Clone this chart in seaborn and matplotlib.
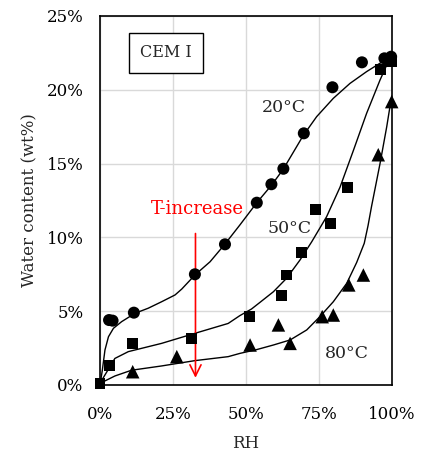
import numpy as np
import pandas as pd
import matplotlib
matplotlib.use("Agg")
import matplotlib.pyplot as plt
from matplotlib.ticker import PercentFormatter
import seaborn as sns

### Measured points (RH %, water content wt%)

rh_20 = [3.1, 4.3, 11.6, 32.5, 42.8, 53.7, 58.7, 62.8, 69.8, 79.6, 89.7, 97.4, 99.7]
w_20 = [4.4, 4.36, 4.9, 7.5, 9.53, 12.35, 13.6, 14.65, 17.05, 20.17, 21.86, 22.13, 22.24]

rh_50 = [0.0, 3.4, 11.2, 31.2, 51.1, 62.1, 63.9, 69.1, 73.7, 78.8, 84.8, 96.0, 99.7]
w_50 = [0.11, 1.31, 2.78, 3.14, 4.67, 6.08, 7.45, 8.99, 11.86, 10.95, 13.4, 21.4, 21.9]

rh_80 = [11.2, 26.3, 51.4, 61.1, 65.1, 76.1, 79.9, 85.2, 90.2, 95.3, 99.9]
w_80 = [0.9, 1.92, 2.71, 4.07, 2.82, 4.63, 4.74, 6.78, 7.45, 15.6, 19.2]

### Fitted curves

crv_rh_20 = [0, 0.8, 1.7, 2.9, 4.6, 7.4, 12.0, 16.5, 21.1, 25.7, 28.0, 32.5, 37.7, 42.8,
             47.9, 53.7, 58.8, 62.8, 69.6, 74.2, 79.9, 85.6, 91.3, 95.9, 99.3]
crv_w_20 = [0.0, 1.0, 2.37, 3.27, 3.84, 4.29, 4.86, 5.2, 5.64, 6.1, 6.5, 7.45, 8.35, 9.55,
            10.84, 12.35, 13.55, 14.63, 16.9, 18.18, 19.42, 20.43, 21.23, 21.8, 22.13]

crv_rh_50 = [0, 0.3, 3.4, 5.1, 9.7, 21.1, 32.5, 43.9, 47.9, 51.9, 54.8, 59.4, 63.9,
             68.5, 72.5, 77.6, 82.2, 86.8, 91.3, 95.9, 98.7]
crv_w_50 = [0.0, 0.22, 1.24, 1.8, 2.26, 2.82, 3.5, 4.17, 4.7, 5.15, 5.6, 6.32, 7.23,
            8.47, 9.7, 11.4, 13.4, 15.9, 18.4, 20.66, 21.9]

crv_rh_80 = [0, 5.1, 10.8, 21.1, 32.5, 43.9, 47.9, 53.7, 59.4, 65.1, 70.8, 75.3, 79.9,
             84.5, 87.9, 90.5, 91.8, 93.0, 95.9, 98.2, 99.5]
crv_w_80 = [0.11, 0.61, 1.0, 1.29, 1.65, 1.92, 2.14, 2.4, 2.71, 3.05, 3.73, 4.63, 5.64,
            6.89, 8.3, 9.6, 10.8, 12.1, 15.0, 17.5, 19.1]

labels = ['20°C', '50°C', '80°C']
markers = ['o', 's', '^']
sizes = [75, 62, 95]

pts = [(rh_20, w_20), (rh_50, w_50), (rh_80, w_80)]
crvs = [(crv_rh_20, crv_w_20), (crv_rh_50, crv_w_50), (crv_rh_80, crv_w_80)]

sns.set_style('whitegrid')
plt.rcParams['font.family'] = ['DejaVu Serif']

fig = plt.figure(figsize=(4.23, 4.54), dpi=100)
ax = fig.add_axes([0.2364, 0.152, 0.6903, 0.8128])

for (x, y) in crvs:
    d = pd.DataFrame({'RH': x, 'W': y})
    sns.lineplot(data=d, x='RH', y='W', ax=ax, color='black', lw=1.0,
                 sort=False, estimator=None, legend=False)

for (x, y), m, s in zip(pts, markers, sizes):
    d = pd.DataFrame({'RH': x, 'W': y})
    sns.scatterplot(data=d, x='RH', y='W', ax=ax, marker=m, color='black', s=s,
                    edgecolor='none', legend=False, clip_on=False, zorder=5)

ax.set_xlim(0, 100)
ax.set_ylim(0, 25)
ax.set_xticks([0, 25, 50, 75, 100])
ax.set_yticks([0, 5, 10, 15, 20, 25])
ax.xaxis.set_major_formatter(PercentFormatter(100, decimals=0))
ax.yaxis.set_major_formatter(PercentFormatter(100, decimals=0))
ax.grid(color='#d9d9d9', lw=1.0)
for sp in ax.spines.values():
    sp.set_color('black')
    sp.set_linewidth(1.2)
ax.tick_params(axis='both', labelsize=12, colors='black', direction='in',
               length=4, width=1)
ax.tick_params(axis='x', pad=15)
ax.tick_params(axis='y', pad=12)
ax.set_xlabel('RH', fontsize=12, labelpad=9)
ax.set_ylabel('Water content (wt%)', fontsize=12, labelpad=6)

ax.text(22.6, 22.5, 'CEM I', fontsize=11.5, ha='center', va='center',
        bbox=dict(boxstyle='square,pad=0.7', fc='white', ec='black', lw=1.0))
ax.text(63, 18.8, '20°C', fontsize=12.5, ha='center', va='center')
ax.text(65, 10.6, '50°C', fontsize=12.5, ha='center', va='center')
ax.text(84.6, 2.1, '80°C', fontsize=12.5, ha='center', va='center')
ax.text(33.2, 11.9, 'T-increase', fontsize=13, color='red', ha='center', va='center')
ax.annotate('', xy=(32.7, 0.3), xytext=(32.7, 10.45),
            arrowprops=dict(arrowstyle='->', color='red', lw=1.2, mutation_scale=20))

fig.savefig('out.png', dpi=100)
